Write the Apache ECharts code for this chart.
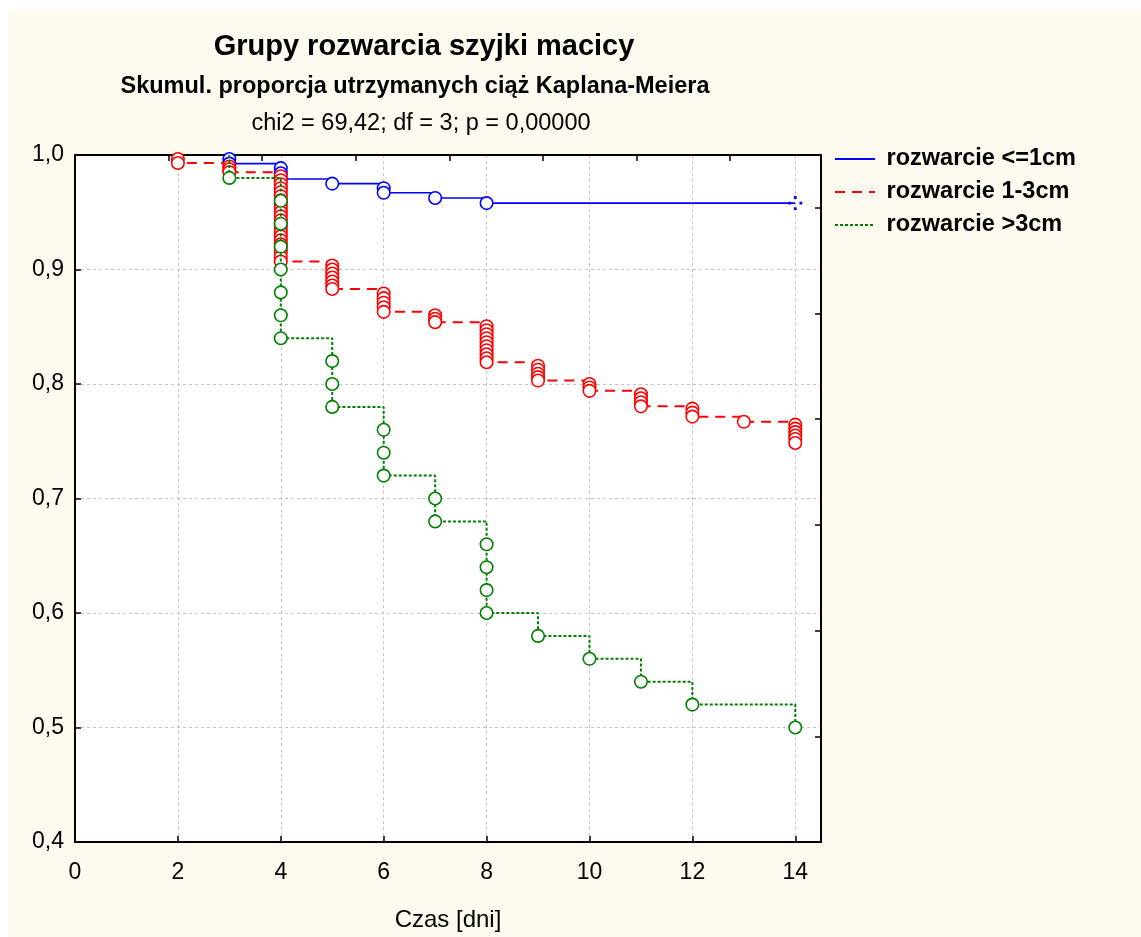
<!DOCTYPE html>
<html>
<head>
<meta charset="utf-8">
<script src="https://cdn.jsdelivr.net/npm/echarts@6/dist/echarts.min.js"></script>
<style>
html,body{margin:0;padding:0;background:#fff;}
#bg{position:absolute;left:8px;top:10px;width:1133px;height:927px;background:#FEFAEF;}
#c{position:absolute;left:0;top:0;width:1141px;height:937px;}
</style>
</head>
<body>
<div id="bg"></div>
<div id="c"></div>
<script>
// ---- texts ----
const titleText = 'Grupy rozwarcia szyjki macicy';
const subtitleText = 'Skumul. proporcja utrzymanych ciąż Kaplana-Meiera';
const statText = 'chi2 = 69,42; df = 3; p = 0,00000';
const xAxisName = 'Czas [dni]';
const seriesNames = ['rozwarcie <=1cm', 'rozwarcie 1-3cm', 'rozwarcie >3cm'];
const endTime = 14;

// ---- data: event times and survival value after each event (circles) ----
const blueTimes = [3, 4, 5, 6, 7, 8];
const blueEvents = [
  [0.9965, 0.9925],
  [0.9885, 0.984, 0.979],
  [0.975],
  [0.971, 0.967],
  [0.9625],
  [0.958]
];
const blueCensored = [[14, 0.958]];

const redTimes = [2, 3, 4, 5, 6, 7, 8, 9, 10, 11, 12, 13, 14];
const redEvents = [
  [0.9965, 0.993],
  [0.990, 0.9875, 0.985],
  [0.9815, 0.978, 0.9745, 0.971, 0.9675, 0.964, 0.9605, 0.957, 0.9535, 0.950, 0.9465,
   0.943, 0.9395, 0.936, 0.9325, 0.929, 0.9255, 0.922, 0.9185, 0.915, 0.911, 0.907],
  [0.9035, 0.900, 0.8965, 0.893, 0.8895, 0.886, 0.883],
  [0.879, 0.875, 0.871, 0.867, 0.863],
  [0.860, 0.857, 0.854],
  [0.8505, 0.847, 0.8435, 0.840, 0.8365, 0.833, 0.8295, 0.826, 0.8225, 0.819],
  [0.816, 0.8125, 0.809, 0.806, 0.803],
  [0.800, 0.797, 0.794],
  [0.791, 0.7875, 0.784, 0.7805],
  [0.7785, 0.775, 0.7715],
  [0.767],
  [0.7645, 0.761, 0.758, 0.755, 0.752, 0.7485]
];

const greenTimes = [3, 4, 5, 6, 7, 8, 9, 10, 11, 12, 14];
const greenEvents = [
  [0.98],
  [0.96, 0.94, 0.92, 0.90, 0.88, 0.86, 0.84],
  [0.82, 0.80, 0.78],
  [0.76, 0.74, 0.72],
  [0.70, 0.68],
  [0.66, 0.64, 0.62, 0.60],
  [0.58],
  [0.56],
  [0.54],
  [0.52],
  [0.50]
];

// ---- build series data ----
function stepLine(times, events) {
  const pts = [[times[0], 1.0]];
  times.forEach((t, i) => { const g = events[i]; pts.push([t, g[g.length - 1]]); });
  const last = pts[pts.length - 1];
  if (last[0] < endTime) pts.push([endTime, last[1]]);
  return pts;
}
function circles(times, events) {
  const pts = [];
  times.forEach((t, i) => events[i].forEach(v => pts.push([t, v])));
  return pts;
}

const FONT = '"Liberation Sans", Arial, sans-serif';
const BLUE = '#0000ff', RED = '#ff0000', GREEN = '#008000';

function circleSeries(name, data, color, z) {
  return {
    name: name, type: 'scatter', data: data, symbol: 'circle', symbolSize: 12.5, z: z,
    itemStyle: { color: '#ffffff', borderColor: color, borderWidth: 1.6, opacity: 1 },
    emphasis: { disabled: true }, silent: true, clip: false
  };
}
function lineSeries(name, data, color, type, width, z) {
  return {
    name: name, type: 'line', step: 'end', data: data, symbol: 'none', showSymbol: false,
    symbolSize: 0, z: z,
    lineStyle: { color: color, width: width, type: type }, itemStyle: { color: color },
    emphasis: { disabled: true }, silent: true, clip: false
  };
}

const chart = echarts.init(document.getElementById('c'), null, { renderer: 'canvas' });
const option = {
  backgroundColor: 'transparent',
  animation: false,
  textStyle: { fontFamily: FONT },
  graphic: [
    { type: 'text', x: 424, y: 47, style: { text: titleText, font: 'bold 29px ' + FONT, fill: '#000', align: 'center', verticalAlign: 'middle' } },
    { type: 'text', x: 415, y: 87, style: { text: subtitleText, font: 'bold 23.5px ' + FONT, fill: '#000', align: 'center', verticalAlign: 'middle' } },
    { type: 'text', x: 421, y: 124, style: { text: statText, font: '23.5px ' + FONT, fill: '#000', align: 'center', verticalAlign: 'middle' } }
  ],
  legend: {
    orient: 'vertical', left: 834, top: 147, padding: 0,
    itemWidth: 40, itemHeight: 14, itemGap: 9,
    data: seriesNames,
    formatter: n => ' ' + n,
    itemStyle: { opacity: 0 },
    textStyle: { fontSize: 23.5, fontWeight: 'bold', color: '#000', fontFamily: FONT },
    selectedMode: false
  },
  grid: { left: 75, top: 155, right: 320, bottom: 95, show: true, backgroundColor: '#ffffff', borderWidth: 0,
    outerBoundsMode: 'none', containLabel: false },
  xAxis: [
    {
      type: 'value', position: 'bottom', min: 0, max: 14.5, interval: 2,
      axisLine: { onZero: false, lineStyle: { color: '#000', width: 2 } },
      axisTick: { inside: true, length: 6, lineStyle: { color: '#000', width: 1.5 } },
      axisLabel: { fontSize: 23, color: '#000', margin: 19, showMaxLabel: false, fontFamily: FONT },
      splitLine: { show: true, lineStyle: { color: '#c4c4c4', width: 1, type: [3, 3] } },
      name: xAxisName, nameLocation: 'middle', nameGap: 66,
      nameTextStyle: { fontSize: 24, color: '#000', fontFamily: FONT }
    },
    {
      type: 'value', position: 'top', min: 0, max: 7.97, interval: 1,
      axisLine: { onZero: false, lineStyle: { color: '#000', width: 2 } },
      axisTick: { inside: true, length: 6, lineStyle: { color: '#000', width: 1.5 } },
      axisLabel: { show: false }, splitLine: { show: false }
    }
  ],
  yAxis: [
    {
      type: 'value', position: 'left', min: 0.4, max: 1.0, interval: 0.1,
      axisLine: { show: true, onZero: false, lineStyle: { color: '#000', width: 2 } },
      axisTick: { show: true, inside: true, length: 6, lineStyle: { color: '#000', width: 1.5 } },
      axisLabel: { fontSize: 23, color: '#000', margin: 11, fontFamily: FONT,
        formatter: v => v.toFixed(1).replace('.', ',') },
      splitLine: { show: true, lineStyle: { color: '#c4c4c4', width: 1, type: [3, 3] } }
    },
    {
      type: 'value', position: 'right', min: 0, max: 6.5, interval: 1,
      axisLine: { show: true, onZero: false, lineStyle: { color: '#000', width: 2 } },
      axisTick: { show: true, inside: true, length: 6, lineStyle: { color: '#000', width: 1.5 } },
      axisLabel: { show: false }, splitLine: { show: false }
    }
  ],
  series: [
    lineSeries(seriesNames[0], stepLine(blueTimes, blueEvents), BLUE, 'solid', 1.6, 2),
    circleSeries('c0', circles(blueTimes, blueEvents), BLUE, 3),
    {
      name: 'cens0', type: 'scatter', data: blueCensored, z: 3,
      symbol: 'path://M4,0h2v2h-2z M4,8h2v2h-2z M0,4h2v2h-2z M8,4h2v2h-2z', symbolSize: 14,
      itemStyle: { color: BLUE, opacity: 1 },
      emphasis: { disabled: true }, silent: true, clip: false
    },
    lineSeries(seriesNames[1], stepLine(redTimes, redEvents), RED, [10, 7], 2, 4),
    circleSeries('c1', circles(redTimes, redEvents), RED, 5),
    lineSeries(seriesNames[2], stepLine(greenTimes, greenEvents), GREEN, [3, 2], 2, 6),
    circleSeries('c2', circles(greenTimes, greenEvents), GREEN, 7)
  ]
};
chart.setOption(option);
</script>
</body>
</html>
